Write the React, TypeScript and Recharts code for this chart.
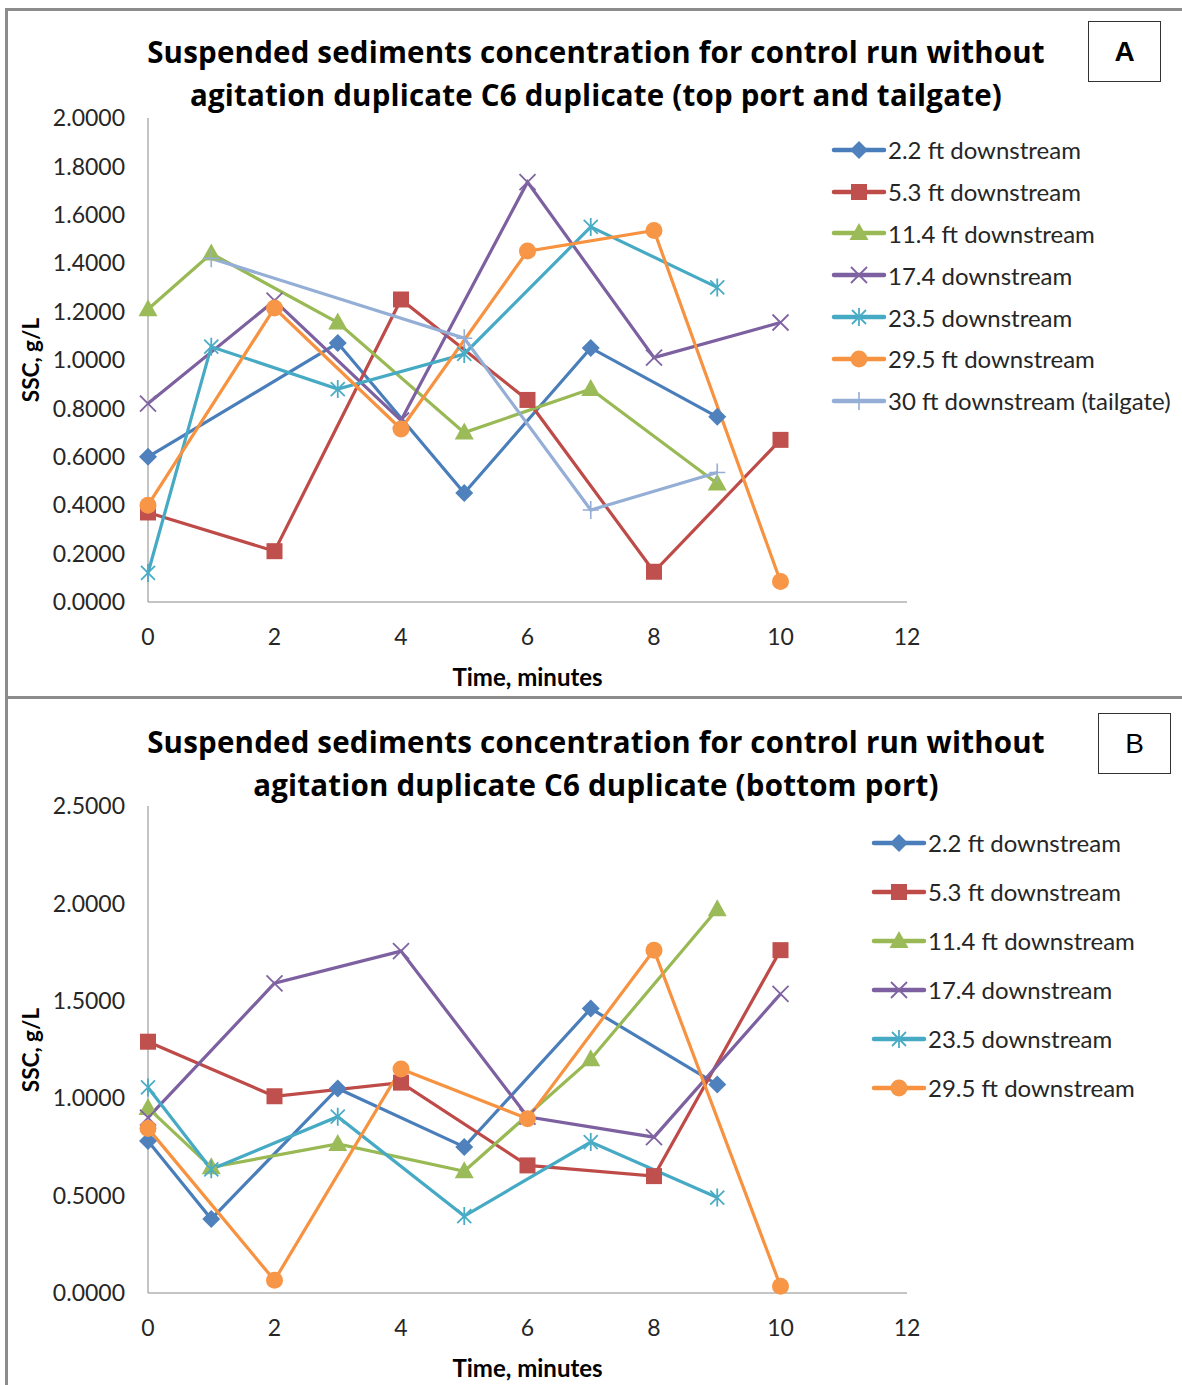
import React from 'react'
import { LineChart, Line, XAxis, YAxis, Legend } from 'recharts'

const FONT = 'Lato, "Open Sans", sans-serif'
const TITLE_FONT = '"Open Sans", Lato, sans-serif'

// sampling times (minutes)
const timesEven = [0, 2, 4, 6, 8, 10]
const timesOdd = [0, 1, 3, 5, 7, 9]
const timesA22 = [0, 3, 5, 7, 9]
const timesTail = [1, 5, 7, 9]

const xTicks = [0, 2, 4, 6, 8, 10, 12]
const yTicksA = [0, 0.2, 0.4, 0.6, 0.8, 1.0, 1.2, 1.4, 1.6, 1.8, 2.0]
const yTicksB = [0, 0.5, 1.0, 1.5, 2.0, 2.5]

// A: top port and tailgate, SSC g/L
const topA_2_2 = [0.6, 1.07, 0.45, 1.05, 0.765]
const topA_5_3 = [0.37, 0.21, 1.25, 0.835, 0.125, 0.67]
const topA_11_4 = [1.21, 1.44, 1.155, 0.7, 0.88, 0.49]
const topA_17_4 = [0.82, 1.245, 0.75, 1.735, 1.01, 1.155]
const topA_23_5 = [0.12, 1.055, 0.88, 1.025, 1.55, 1.3]
const topA_29_5 = [0.4, 1.215, 0.715, 1.45, 1.535, 0.085]
const topA_tail = [1.42, 1.09, 0.38, 0.535]

// B: bottom port, SSC g/L
const botB_2_2 = [0.78, 0.38, 1.05, 0.75, 1.46, 1.07]
const botB_5_3 = [1.29, 1.01, 1.08, 0.655, 0.6, 1.76]
const botB_11_4 = [0.95, 0.645, 0.765, 0.625, 1.2, 1.97]
const botB_17_4 = [0.9, 1.59, 1.755, 0.905, 0.8, 1.535]
const botB_23_5 = [1.055, 0.635, 0.905, 0.395, 0.775, 0.49]
const botB_29_5 = [0.845, 0.065, 1.15, 0.895, 1.76, 0.035]

type Shape = 'diamond' | 'square' | 'triangle' | 'x' | 'star' | 'circle' | 'plus'

interface Series {
  name: string
  color: string
  marker: string
  shape: Shape
  data: { t: number; v: number }[]
}

const zip = (times: number[], vals: number[]) => times.map((t, i) => ({ t, v: vals[i] }))

const seriesA: Series[] = [
  { name: '2.2 ft downstream', color: '#4A7EBB', marker: '#4F81BD', shape: 'diamond', data: zip(timesA22, topA_2_2) },
  { name: '5.3 ft downstream', color: '#BE4B48', marker: '#C0504D', shape: 'square', data: zip(timesEven, topA_5_3) },
  { name: '11.4 ft downstream', color: '#98B954', marker: '#9BBB59', shape: 'triangle', data: zip(timesOdd, topA_11_4) },
  { name: '17.4 downstream', color: '#7D60A0', marker: '#8064A2', shape: 'x', data: zip(timesEven, topA_17_4) },
  { name: '23.5 downstream', color: '#46AAC5', marker: '#4BACC6', shape: 'star', data: zip(timesOdd, topA_23_5) },
  { name: '29.5 ft downstream', color: '#F69240', marker: '#F79646', shape: 'circle', data: zip(timesEven, topA_29_5) },
  { name: '30 ft downstream (tailgate)', color: '#94AED6', marker: '#94AED6', shape: 'plus', data: zip(timesTail, topA_tail) },
]

const seriesB: Series[] = [
  { name: '2.2 ft downstream', color: '#4A7EBB', marker: '#4F81BD', shape: 'diamond', data: zip(timesOdd, botB_2_2) },
  { name: '5.3 ft downstream', color: '#BE4B48', marker: '#C0504D', shape: 'square', data: zip(timesEven, botB_5_3) },
  { name: '11.4 ft downstream', color: '#98B954', marker: '#9BBB59', shape: 'triangle', data: zip(timesOdd, botB_11_4) },
  { name: '17.4 downstream', color: '#7D60A0', marker: '#8064A2', shape: 'x', data: zip(timesEven, botB_17_4) },
  { name: '23.5 downstream', color: '#46AAC5', marker: '#4BACC6', shape: 'star', data: zip(timesOdd, botB_23_5) },
  { name: '29.5 ft downstream', color: '#F69240', marker: '#F79646', shape: 'circle', data: zip(timesEven, botB_29_5) },
]

function Marker({ shape, x, y, color }: { shape: Shape; x: number; y: number; color: string }) {
  switch (shape) {
    case 'diamond':
      return <polygon points={`${x},${y - 9} ${x + 9},${y} ${x},${y + 9} ${x - 9},${y}`} fill={color} />
    case 'square':
      return <rect x={x - 8} y={y - 8} width={16} height={16} fill={color} />
    case 'triangle':
      return <polygon points={`${x},${y - 10} ${x + 9.5},${y + 7} ${x - 9.5},${y + 7}`} fill={color} />
    case 'circle':
      return <circle cx={x} cy={y} r={8.5} fill={color} />
    case 'x':
      return (
        <path d={`M${x - 8},${y - 8}L${x + 8},${y + 8}M${x + 8},${y - 8}L${x - 8},${y + 8}`} stroke={color} strokeWidth={1.8} fill="none" />
      )
    case 'star':
      return (
        <path
          d={`M${x - 7},${y - 7}L${x + 7},${y + 7}M${x + 7},${y - 7}L${x - 7},${y + 7}M${x},${y - 9}L${x},${y + 9}`}
          stroke={color}
          strokeWidth={1.8}
          fill="none"
        />
      )
    case 'plus':
      return <path d={`M${x - 8},${y}L${x + 8},${y}M${x},${y - 9}L${x},${y + 9}`} stroke={color} strokeWidth={1.6} fill="none" />
  }
  return null
}

function LegendList({ series, rowH }: { series: Series[]; rowH: number }) {
  return (
    <div style={{ fontFamily: FONT, fontSize: 24, color: '#262626' }}>
      {series.map((s) => (
        <div key={s.name} style={{ display: 'flex', alignItems: 'center', height: rowH, whiteSpace: 'nowrap' }}>
          <svg width={54} height={22} style={{ overflow: 'visible' }}>
            <line x1={2} x2={52} y1={11} y2={11} stroke={s.color} strokeWidth={4.5} strokeLinecap="round" />
            <Marker shape={s.shape} x={27} y={11} color={s.marker} />
          </svg>
          <span style={{ marginLeft: 2 }}>{s.name}</span>
        </div>
      ))}
    </div>
  )
}

interface PanelProps {
  top: number
  height: number
  plotTop: number
  plotBottom: number
  title: string[]
  titleTop: number
  letter: string
  letterBold: boolean
  letterBox: { left: number; top: number }
  series: Series[]
  yMax: number
  yTicks: number[]
  legendLeft: number
  legendTop: number
  legendRow: number
}

const PLOT_LEFT = 148
const PLOT_RIGHT = 907
const W = 1182
const Y_AXIS_W = 60
const X_AXIS_H = 40

function Panel(p: PanelProps) {
  const plotMid = (p.plotTop + p.plotBottom) / 2
  return (
    <div style={{ position: 'absolute', left: 0, top: p.top, width: W, height: p.height }}>
      <div
        style={{
          position: 'absolute',
          left: 5,
          top: 0,
          width: W + 20,
          height: p.height + 20,
          borderLeft: '3px solid #8c8c8c',
          borderTop: '3px solid #8c8c8c',
          boxSizing: 'border-box',
        }}
      />
      <LineChart
        width={W}
        height={p.height}
        margin={{
          top: p.plotTop,
          right: W - PLOT_RIGHT,
          left: PLOT_LEFT - Y_AXIS_W,
          bottom: p.height - p.plotBottom - X_AXIS_H,
        }}
        style={{ position: 'absolute', left: 0, top: 0 }}
      >
        <XAxis
          type="number"
          dataKey="t"
          domain={[0, 12]}
          ticks={xTicks}
          height={X_AXIS_H}
          tickLine={false}
          tickSize={0}
          tickMargin={27}
          stroke="#8a8a8a"
          tick={{ fill: '#262626', fontSize: 23, fontFamily: FONT }}
          allowDuplicatedCategory={false}
        />
        <YAxis
          type="number"
          dataKey="v"
          domain={[0, p.yMax]}
          ticks={p.yTicks}
          width={Y_AXIS_W}
          tickLine={false}
          tickSize={0}
          tickMargin={23}
          stroke="#8a8a8a"
          interval={0}
          tickFormatter={(v: number) => v.toFixed(4)}
          tick={{ fill: '#262626', fontSize: 23, fontFamily: FONT }}
        />
        <Legend
          layout="horizontal"
          align="center"
          verticalAlign="middle"
          wrapperStyle={{ left: p.legendLeft, top: p.legendTop, width: 360 }}
          content={() => <LegendList series={p.series} rowH={p.legendRow} />}
        />
        {p.series.map((s) => (
          <Line
            key={s.name}
            name={s.name}
            data={s.data}
            dataKey="v"
            stroke={s.color}
            strokeWidth={3.2}
            isAnimationActive={false}
            dot={(d: any) => <Marker key={`${s.name}-${d.index}`} shape={s.shape} x={d.cx} y={d.cy} color={s.marker} />}
            activeDot={false}
          />
        ))}
      </LineChart>
      <div
        style={{
          position: 'absolute',
          left: 0,
          top: p.titleTop,
          width: 1192,
          textAlign: 'center',
          fontFamily: TITLE_FONT,
          fontWeight: 700,
          fontSize: 29.5,
          lineHeight: '43px',
          letterSpacing: 0.2,
          color: '#000',
        }}
      >
        {p.title.map((line) => (
          <div key={line}>{line}</div>
        ))}
      </div>
      <div
        style={{
          position: 'absolute',
          left: p.letterBox.left,
          top: p.letterBox.top,
          width: 73,
          height: 61,
          border: '1.5px solid #333',
          boxSizing: 'border-box',
          display: 'flex',
          alignItems: 'center',
          justifyContent: 'center',
          fontFamily: '"Liberation Sans", Arial, sans-serif',
          fontWeight: p.letterBold ? 700 : 400,
          fontSize: 28,
          color: '#000',
        }}
      >
        {p.letter}
      </div>
      <div
        style={{
          position: 'absolute',
          left: 30,
          top: plotMid,
          transform: 'translate(-50%, -50%) rotate(-90deg)',
          fontFamily: FONT,
          fontWeight: 700,
          fontSize: 22.5,
          whiteSpace: 'nowrap',
          color: '#000',
        }}
      >
        SSC, g/L
      </div>
      <div
        style={{
          position: 'absolute',
          left: (PLOT_LEFT + PLOT_RIGHT) / 2,
          top: p.plotBottom + 74,
          transform: 'translate(-50%, -50%)',
          fontFamily: FONT,
          fontWeight: 700,
          fontSize: 24,
          whiteSpace: 'nowrap',
          color: '#000',
        }}
      >
        Time, minutes
      </div>
    </div>
  )
}

export default function App() {
  return (
    <div style={{ position: 'absolute', left: 0, top: 0, width: W, height: 1385, background: '#fff', overflow: 'hidden' }}>
      <Panel
        top={8}
        height={689}
        plotTop={110}
        plotBottom={594}
        title={[
          'Suspended sediments concentration for control run without',
          'agitation duplicate C6 duplicate (top port and tailgate)',
        ]}
        titleTop={22}
        letter="A"
        letterBold
        letterBox={{ left: 1088, top: 13 }}
        series={seriesA}
        yMax={2}
        yTicks={yTicksA}
        legendLeft={832}
        legendTop={121}
        legendRow={41.8}
      />
      <Panel
        top={696}
        height={700}
        plotTop={110}
        plotBottom={597}
        title={[
          'Suspended sediments concentration for control run without',
          'agitation duplicate C6 duplicate (bottom port)',
        ]}
        titleTop={24}
        letter="B"
        letterBold={false}
        letterBox={{ left: 1098, top: 17 }}
        series={seriesB}
        yMax={2.5}
        yTicks={yTicksB}
        legendLeft={872}
        legendTop={122}
        legendRow={49}
      />
    </div>
  )
}
